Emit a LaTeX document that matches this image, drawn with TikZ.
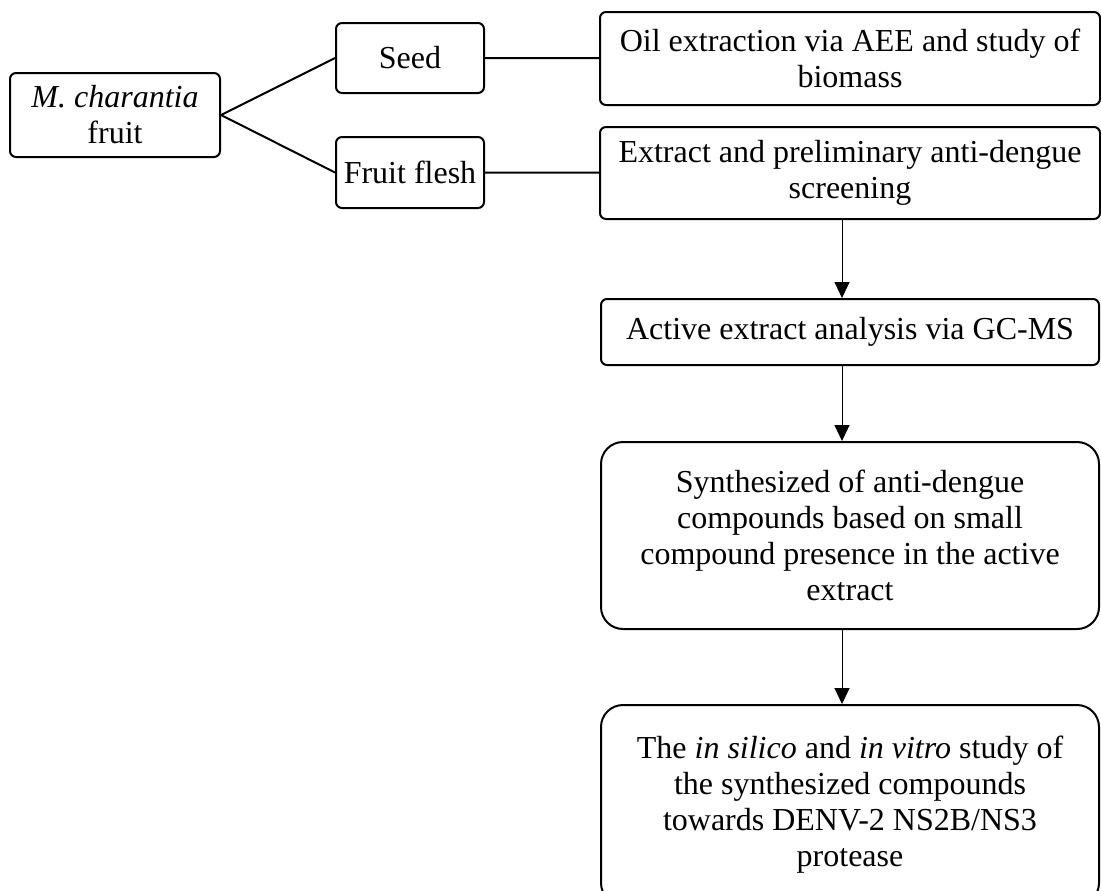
\documentclass[tikz,border=0pt]{standalone}
\usepackage{fontspec}
\setmainfont{Liberation Serif}
\usetikzlibrary{arrows.meta,positioning}

\begin{document}
\begin{tikzpicture}[x=0.5pt,y=-0.5pt,node distance=38pt]
    \tikzset{box/.style={draw,line width=1pt,rounded corners=3pt,align=center,inner sep=2pt,font=\fontsize{16}{18}\selectfont},
      bigbox/.style={box,rounded corners=11pt,minimum width=249pt},
      link/.style={line width=1pt},
      flow/.style={line width=0.5pt,-{Triangle[length=8pt,width=7.5pt]}}}
    \useasboundingbox (0,0) rectangle (1101,890);
    % source and its two parts
    \node[box,minimum width=105pt,minimum height=42pt] (fruit) at (115,115) {\textit{M. charantia}\\fruit};
    \node[box,minimum width=74pt,minimum height=35pt] (seed) at (410,58) {Seed};
    \node[box,minimum width=74pt,minimum height=35.5pt] (flesh) at (410,172.5) {Fruit flesh};
    % work on each part
    \node[box,minimum width=250pt,minimum height=46.5pt] (oil) at (850,58.5) {Oil extraction via AEE and study of\\biomass};
    \node[box,minimum width=250pt,minimum height=46pt] (extract) at (850,173) {Extract and preliminary anti-dengue\\screening};
    \node[box,minimum width=249pt,minimum height=33pt,below=39pt of extract] (active) {Active extract analysis via GC-MS};
    \node[bigbox,minimum height=93.5pt,below=37.5pt of active] (synth)
      {Synthesized of anti-dengue\\compounds based on small\\compound presence in the active\\extract};
    \node[bigbox,minimum height=100pt,below=37pt of synth] (study)
      {The \textit{in silico} and \textit{in vitro} study of\\the synthesized compounds\\towards DENV-2 NS2B/NS3\\protease};
    \draw[link] (fruit.east) -- (seed.west);
    \draw[link] (fruit.east) -- (flesh.west);
    \draw[link] (seed) -- (oil);
    \draw[link] (flesh) -- (extract);
    \draw[flow] ([xshift=-4pt]extract.south) -- ([xshift=-4pt]active.north);
    \draw[flow] ([xshift=-4pt]active.south) -- ([xshift=-4pt]synth.north);
    \draw[flow] ([xshift=-4pt]synth.south) -- ([xshift=-4pt]study.north);
  \end{tikzpicture}
\end{document}
